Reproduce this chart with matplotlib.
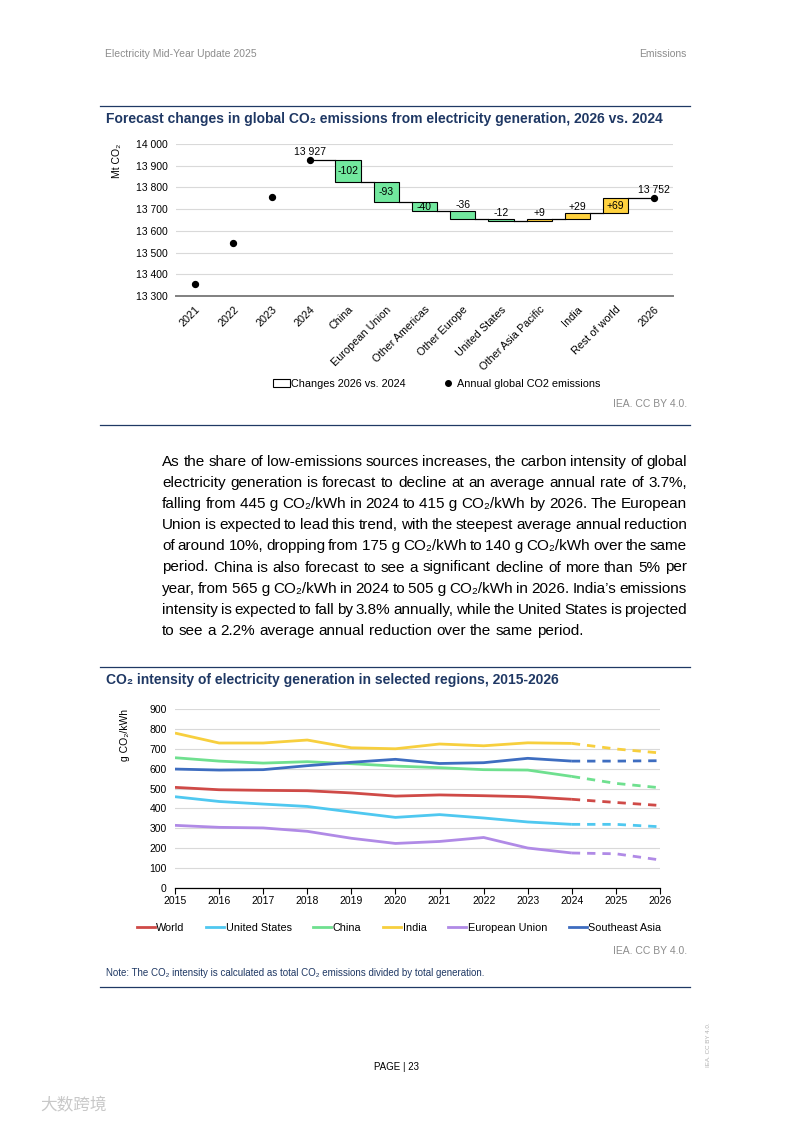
import matplotlib
matplotlib.use("Agg")
import matplotlib.pyplot as plt
from matplotlib.patches import Patch
from matplotlib.lines import Line2D

W, H = 793, 1121
FONT = ["Liberation Sans", "DejaVu Sans"]
plt.rcParams["font.family"] = FONT

NAVY = "#1F3864"
GREY = "#8C8C8C"
GRID = "#D9D9D9"

# waterfall data
annual_years = ["2021", "2022", "2023", "2024"]
annual_vals = [13355, 13543, 13756, 13927]
change_regions = ["China", "European Union", "Other Americas", "Other Europe",
                  "United States", "Other Asia Pacific", "India", "Rest of world"]
change_vals = [-102, -93, -40, -36, -12, 9, 29, 69]
end_year = "2026"
end_val = 13752
wf_label_inside = [True, True, True, False, False, False, False, True]

# intensity data
years = list(range(2015, 2027))
world = [506, 494, 491, 489, 478, 462, 468, 464, 459, 446, 430, 415]
united_states = [459, 435, 422, 410, 382, 355, 369, 352, 332, 320, 320, 308]
china = [655, 638, 628, 635, 625, 613, 605, 595, 593, 561, 526, 504]
india = [779, 729, 729, 744, 705, 700, 724, 715, 730, 727, 699, 679]
eu = [315, 305, 302, 285, 250, 224, 234, 254, 201, 176, 172, 141]
southeast_asia = [598, 593, 595, 615, 632, 647, 626, 630, 652, 638, 638, 640]

series = [("World", world, "#CF4A47"),
          ("United States", united_states, "#4FC8F0"),
          ("China", china, "#6FE08F"),
          ("India", india, "#F7CF3E"),
          ("European Union", eu, "#B08AE6"),
          ("Southeast Asia", southeast_asia, "#3E6DC0")]

paragraph = [
    "As the share of low-emissions sources increases, the carbon intensity of global",
    "electricity generation is forecast to decline at an average annual rate of 3.7%,",
    "falling from 445\u00a0g CO\u2082/kWh in 2024 to 415\u00a0g CO\u2082/kWh by 2026. The European",
    "Union is expected to lead this trend, with the steepest average annual reduction",
    "of around 10%, dropping from 175\u00a0g CO\u2082/kWh to 140\u00a0g CO\u2082/kWh over the same",
    "period. China is also forecast to see a significant decline of more than 5% per",
    "year, from 565\u00a0g CO\u2082/kWh in 2024 to 505\u00a0g CO\u2082/kWh in 2026. India\u2019s emissions",
    "intensity is expected to fall by 3.8% annually, while the United States is projected",
    "to see a 2.2% average annual reduction over the same period.",
]


def fx(px):
    return px / W


def fy(py):
    return 1 - py / H


def rect(l, t, r, b):
    return [fx(l), fy(b), (r - l) / W, (b - t) / H]


fig = plt.figure(figsize=(W / 100, H / 100), dpi=100)

# page header
fig.text(fx(105), fy(54), "Electricity Mid-Year Update 2025", fontsize=7.5,
         color=GREY, va="center")
fig.text(fx(687), fy(54), "Emissions", fontsize=7.5, color=GREY, va="center",
         ha="right")


def rule(py):
    fig.add_artist(Line2D([fx(100), fx(690)], [fy(py), fy(py)], color=NAVY,
                          lw=0.9, transform=fig.transFigure))


# ---- chart 1: waterfall ----
rule(106)
fig.text(fx(106), fy(119), "Forecast changes in global CO\u2082 emissions from electricity generation, 2026 vs. 2024",
         fontsize=10, fontweight="bold", color=NAVY, va="center")

ax1 = fig.add_axes(rect(176, 144, 673, 296))
cats = annual_years + change_regions + [end_year]
xs = list(range(len(cats)))
ax1.scatter(xs[:len(annual_years)], annual_vals, s=18, color="black", zorder=4)
ax1.scatter([xs[-1]], [end_val], s=18, color="black", zorder=4)

bw = 0.66
level = annual_vals[-1]
start = len(annual_years)
prev_right = xs[start - 1]
for i, v in enumerate(change_vals):
    x = xs[start + i]
    lo = min(level, level + v)
    col = "#72E89E" if v < 0 else "#FFD23F"
    ax1.bar(x, abs(v), bottom=lo, width=bw, color=col, edgecolor="black",
            linewidth=0.8, zorder=3)
    ax1.plot([prev_right, x - bw / 2], [level, level], color="black", lw=0.9, zorder=2)
    txt = f"{v:+d}" if v > 0 else f"{v:d}"
    if wf_label_inside[i]:
        ax1.text(x, lo + abs(v) / 2, txt, ha="center", va="center", fontsize=7.5, zorder=5)
    else:
        ax1.text(x, lo + abs(v) + 4, txt, ha="center", va="bottom", fontsize=7.5, zorder=5)
    level += v
    prev_right = x + bw / 2
ax1.plot([prev_right, xs[-1]], [level, level], color="black", lw=0.9, zorder=2)

ax1.text(xs[start - 1], annual_vals[-1] + 12, f"{annual_vals[-1]:,}".replace(",", " "),
         ha="center", va="bottom", fontsize=7.5)
ax1.text(xs[-1], end_val + 12, f"{end_val:,}".replace(",", " "),
         ha="center", va="bottom", fontsize=7.5)

ax1.set_xlim(-0.5, len(cats) - 0.5)
ax1.set_ylim(13300, 14000)
ax1.set_yticks(range(13300, 14001, 100))
ax1.set_yticklabels([f"{v:,}".replace(",", " ") for v in range(13300, 14001, 100)], fontsize=7.5)
ax1.set_xticks(xs)
ax1.set_xticklabels(cats, rotation=45, ha="right", rotation_mode="anchor", fontsize=7.8)
ax1.tick_params(length=0, pad=6)
ax1.grid(axis="y", color=GRID, lw=0.8)
ax1.set_axisbelow(True)
for s in ["top", "right", "left"]:
    ax1.spines[s].set_visible(False)
ax1.spines["bottom"].set_color("#808080")
ax1.spines["bottom"].set_linewidth(1.4)
fig.text(fx(117), fy(144), "Mt CO\u2082", rotation=90, fontsize=7.5, ha="center", va="top")

fig.legend(handles=[Patch(facecolor="white", edgecolor="black", linewidth=0.8),
                    Line2D([], [], marker="o", color="black", ls="none", markersize=4)],
           labels=["Changes 2026 vs. 2024", "Annual global CO2 emissions"],
           loc="center", bbox_to_anchor=(fx(437), fy(384)), ncol=2, frameon=False,
           fontsize=7.8, handlelength=1.5, handletextpad=0.1, columnspacing=3.2)
fig.text(fx(687), fy(404), "IEA. CC BY 4.0.", fontsize=7.5, color=GREY, ha="right", va="center")
rule(425)

# ---- paragraph (justified) ----
renderer = fig.canvas.get_renderer()


def text_width(s, size):
    # measure between two bars so side bearings count like real advances
    a = fig.text(0, 0, "|" + s + "|", fontsize=size)
    b = fig.text(0, 0, "||", fontsize=size)
    w = a.get_window_extent(renderer).width - b.get_window_extent(renderer).width
    a.remove()
    b.remove()
    return w


PSIZE = 11
x0, x1 = 162, 687
space_w = text_width(" ", PSIZE)
py = 462
for li, line in enumerate(paragraph):
    words = line.split(" ")
    widths = [text_width(w.replace("\u00a0", " "), PSIZE) for w in words]
    if li < len(paragraph) - 1:
        gap = (x1 - x0 - sum(widths)) / (len(words) - 1)
    else:
        gap = space_w
    cx = x0
    for w, wd in zip(words, widths):
        fig.text(fx(cx), fy(py), w.replace("\u00a0", " "), fontsize=PSIZE, va="center")
        cx += wd + gap
    py += 21.1

# ---- chart 2: intensity lines ----
rule(667)
fig.text(fx(106), fy(680), "CO\u2082 intensity of electricity generation in selected regions, 2015-2026",
         fontsize=10, fontweight="bold", color=NAVY, va="center")

ax2 = fig.add_axes(rect(175, 709, 660, 888))
for name, vals, col in series:
    ax2.plot(years[:10], vals[:10], color=col, lw=2, label=name, solid_capstyle="butt")
    ax2.plot(years[9:], vals[9:], color=col, lw=2, ls=(0, (3, 2.5)))
ax2.set_xlim(2015, 2026)
ax2.set_ylim(0, 900)
ax2.set_yticks(range(0, 901, 100))
ax2.set_xticks(years)
ax2.tick_params(axis="y", length=0, labelsize=7.5, pad=6)
ax2.tick_params(axis="x", length=4, width=0.8, labelsize=7.5, direction="out", pad=2)
ax2.grid(axis="y", color=GRID, lw=0.8)
ax2.set_axisbelow(True)
for s in ["top", "right", "left"]:
    ax2.spines[s].set_visible(False)
ax2.spines["bottom"].set_color("black")
ax2.spines["bottom"].set_linewidth(0.9)
fig.text(fx(125), fy(709), "g CO\u2082/kWh", rotation=90, fontsize=7.5, ha="center", va="top")

handles = [Line2D([], [], color=c, lw=2) for _, _, c in series]
fig.legend(handles=handles, labels=[n for n, _, _ in series], loc="center",
           bbox_to_anchor=(fx(399), fy(928)), ncol=6, frameon=False, fontsize=7.8,
           handlelength=1.65, handletextpad=0.15, columnspacing=2.0)
fig.text(fx(687), fy(951), "IEA. CC BY 4.0.", fontsize=7.5, color=GREY, ha="right", va="center")
fig.text(fx(106), fy(973), "Note: The CO\u2082 intensity is calculated as total CO\u2082 emissions divided by total generation.",
         fontsize=7, color=NAVY, va="center")
rule(987)

# ---- footer ----
fig.text(fx(396), fy(1067), "PAGE | 23", fontsize=7, ha="center", va="center")
fig.text(fx(708), fy(1045), "IEA. CC BY 4.0.", fontsize=4.5, color="#B0B0B0",
         rotation=90, ha="center", va="center")
fig.text(fx(40), fy(1106), "\u5927\u6570\u8de8\u5883", fontsize=12, color="#C8C8C8",
         va="center", family=["Noto Sans CJK SC", "DejaVu Sans"])

fig.savefig("out.png", dpi=100)
